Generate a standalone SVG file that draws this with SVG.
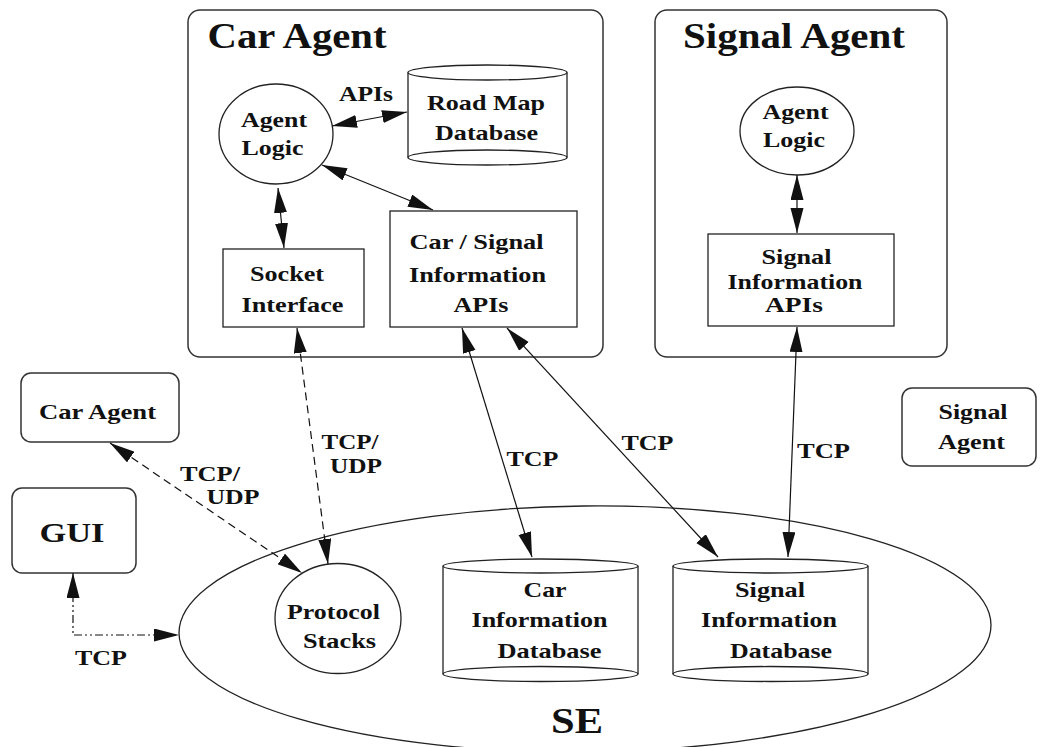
<svg xmlns="http://www.w3.org/2000/svg" width="1042" height="747" viewBox="0 0 1042 747">
<style>
text { font-family: "Liberation Serif", "DejaVu Serif", serif; font-weight: bold; font-size: 22px; text-anchor: middle; fill: #111; }
.title { font-size: 35px; }
.gui { font-size: 28px; }
.sm { font-size: 21px; }
.box { fill: #fff; stroke: #333; stroke-width: 1.5; }
.shape { fill: #fff; stroke: #222; stroke-width: 1.3; }
.se { fill: none; stroke: #222; stroke-width: 1.3; }
.link { fill: none; stroke: #111; stroke-width: 1.2; marker-start: url(#ah); marker-end: url(#ah); }
.dash { stroke-dasharray: 8 5; }
.dashdot { stroke-dasharray: 8 3 2 3 2 3; }
</style>
<defs>
<marker id="ah" markerUnits="userSpaceOnUse" markerWidth="26" markerHeight="14" refX="25" refY="6.5" orient="auto-start-reverse" viewBox="0 0 26 14">
<path d="M0,0 L25,6.5 L0,13 Z" fill="#111"/>
</marker>
</defs>

<g id="se">
<ellipse class="se" cx="585" cy="629" rx="406" ry="123" transform="rotate(-0.6 585 629)"/>
<text class="title" x="577" y="733" textLength="52" lengthAdjust="spacingAndGlyphs">SE</text>
</g>

<g id="car-agent">
<rect class="box" x="188" y="10" width="415" height="347" rx="12"/>
<text class="title" x="297" y="48" textLength="179" lengthAdjust="spacingAndGlyphs">Car Agent</text>
</g>

<g id="signal-agent">
<rect class="box" x="655" y="10" width="292" height="347" rx="12"/>
<text class="title" x="794" y="48" textLength="222" lengthAdjust="spacingAndGlyphs">Signal Agent</text>
</g>

<g id="car-agent-logic">
<ellipse class="shape" cx="276" cy="134" rx="57" ry="50"/>
<text x="274" y="127" textLength="66" lengthAdjust="spacingAndGlyphs">Agent</text>
<text x="272.5" y="155" textLength="62" lengthAdjust="spacingAndGlyphs">Logic</text>
</g>

<g id="road-map-db">
<path class="shape" d="M408,72.5 V157.5 A79.5,7.5 0 0 0 567,157.5 V72.5"/>
<ellipse class="shape" cx="487.5" cy="72.5" rx="79.5" ry="7.5"/>
<path class="shape" style="fill:none" d="M408,157.5 A79.5,7.5 0 0 1 567,157.5"/>
<text x="486" y="110" textLength="118" lengthAdjust="spacingAndGlyphs">Road Map</text>
<text x="486.5" y="140" textLength="103" lengthAdjust="spacingAndGlyphs">Database</text>
</g>

<g id="socket-interface">
<rect class="shape" x="223" y="249" width="141" height="78"/>
<text x="287" y="281" textLength="74" lengthAdjust="spacingAndGlyphs">Socket</text>
<text x="292.5" y="311.5" textLength="102" lengthAdjust="spacingAndGlyphs">Interface</text>
</g>

<g id="car-signal-apis">
<rect class="shape" x="390" y="211" width="187" height="116"/>
<text x="476.5" y="249" textLength="134" lengthAdjust="spacingAndGlyphs">Car / Signal</text>
<text x="477.5" y="282" textLength="137" lengthAdjust="spacingAndGlyphs">Information</text>
<text x="481" y="311.5" textLength="55" lengthAdjust="spacingAndGlyphs">APIs</text>
</g>

<g id="signal-agent-logic">
<ellipse class="shape" cx="797" cy="131" rx="57" ry="44"/>
<text x="795.5" y="118.5" textLength="66" lengthAdjust="spacingAndGlyphs">Agent</text>
<text x="794" y="146.5" textLength="62" lengthAdjust="spacingAndGlyphs">Logic</text>
</g>

<g id="signal-info-apis">
<rect class="shape" x="708" y="234" width="186" height="92"/>
<text class="sm" x="796.5" y="264" textLength="70" lengthAdjust="spacingAndGlyphs">Signal</text>
<text class="sm" x="795" y="289" textLength="135" lengthAdjust="spacingAndGlyphs">Information</text>
<text class="sm" x="794" y="312" textLength="58" lengthAdjust="spacingAndGlyphs">APIs</text>
</g>

<g id="car-agent-small">
<rect class="box" x="21" y="373" width="158" height="69" rx="10"/>
<text x="97.5" y="419" textLength="117" lengthAdjust="spacingAndGlyphs">Car Agent</text>
</g>

<g id="gui">
<rect class="box" x="12" y="488" width="124" height="85" rx="10"/>
<text class="gui" x="72" y="541.5" textLength="65" lengthAdjust="spacingAndGlyphs">GUI</text>
</g>

<g id="signal-agent-small">
<rect class="box" x="902" y="388" width="134" height="78" rx="10"/>
<text x="973" y="419" textLength="69" lengthAdjust="spacingAndGlyphs">Signal</text>
<text x="971.5" y="449" textLength="67" lengthAdjust="spacingAndGlyphs">Agent</text>
</g>

<g id="protocol-stacks">
<ellipse class="shape" cx="338" cy="618.5" rx="63" ry="55"/>
<text x="333.5" y="619" textLength="93" lengthAdjust="spacingAndGlyphs">Protocol</text>
<text x="339.5" y="648" textLength="73" lengthAdjust="spacingAndGlyphs">Stacks</text>
</g>

<g id="car-info-db">
<path class="shape" d="M443,566 V674 A97.5,7.5 0 0 0 638,674 V566"/>
<ellipse class="shape" cx="540.5" cy="566" rx="97.5" ry="7"/>
<path class="shape" style="fill:none" d="M443,674 A97.5,7.5 0 0 1 638,674"/>
<text x="545" y="596.5" textLength="43" lengthAdjust="spacingAndGlyphs">Car</text>
<text x="539.5" y="626.5" textLength="136" lengthAdjust="spacingAndGlyphs">Information</text>
<text x="549.5" y="657.5" textLength="104" lengthAdjust="spacingAndGlyphs">Database</text>
</g>

<g id="signal-info-db">
<path class="shape" d="M673,566 V674 A97.5,7.5 0 0 0 868,674 V566"/>
<ellipse class="shape" cx="770.5" cy="566" rx="97.5" ry="7"/>
<path class="shape" style="fill:none" d="M673,674 A97.5,7.5 0 0 1 868,674"/>
<text x="770" y="596.5" textLength="70" lengthAdjust="spacingAndGlyphs">Signal</text>
<text x="769" y="626.5" textLength="136" lengthAdjust="spacingAndGlyphs">Information</text>
<text x="781" y="657.5" textLength="102" lengthAdjust="spacingAndGlyphs">Database</text>
</g>

<g id="connectors">
<line class="link" x1="332" y1="126" x2="407" y2="112"/>
<line class="link" x1="322" y1="165" x2="433" y2="210"/>
<line class="link" x1="278" y1="188" x2="284" y2="248"/>
<line class="link" x1="797" y1="175" x2="797" y2="233"/>
<line class="link dash" x1="297" y1="328" x2="328" y2="564"/>
<line class="link dash" x1="110" y1="443" x2="302" y2="573"/>
<path class="link dashdot" d="M73,573 V635 H179"/>
<line class="link" x1="462" y1="328" x2="532" y2="557"/>
<line class="link" x1="507" y1="328" x2="718" y2="557"/>
<line class="link" x1="797" y1="327" x2="788" y2="557"/>
<text x="366" y="101" textLength="54" lengthAdjust="spacingAndGlyphs">APIs</text>
<text x="210" y="480.5" textLength="60" lengthAdjust="spacingAndGlyphs">TCP/</text>
<text x="233" y="504" textLength="53" lengthAdjust="spacingAndGlyphs">UDP</text>
<text class="sm" x="350" y="448.5" textLength="57" lengthAdjust="spacingAndGlyphs">TCP/</text>
<text class="sm" x="356" y="472.5" textLength="52" lengthAdjust="spacingAndGlyphs">UDP</text>
<text x="101" y="665" textLength="52" lengthAdjust="spacingAndGlyphs">TCP</text>
<text x="532.5" y="466" textLength="52" lengthAdjust="spacingAndGlyphs">TCP</text>
<text x="647.5" y="450" textLength="52" lengthAdjust="spacingAndGlyphs">TCP</text>
<text x="823.5" y="458" textLength="53" lengthAdjust="spacingAndGlyphs">TCP</text>
</g>
</svg>
